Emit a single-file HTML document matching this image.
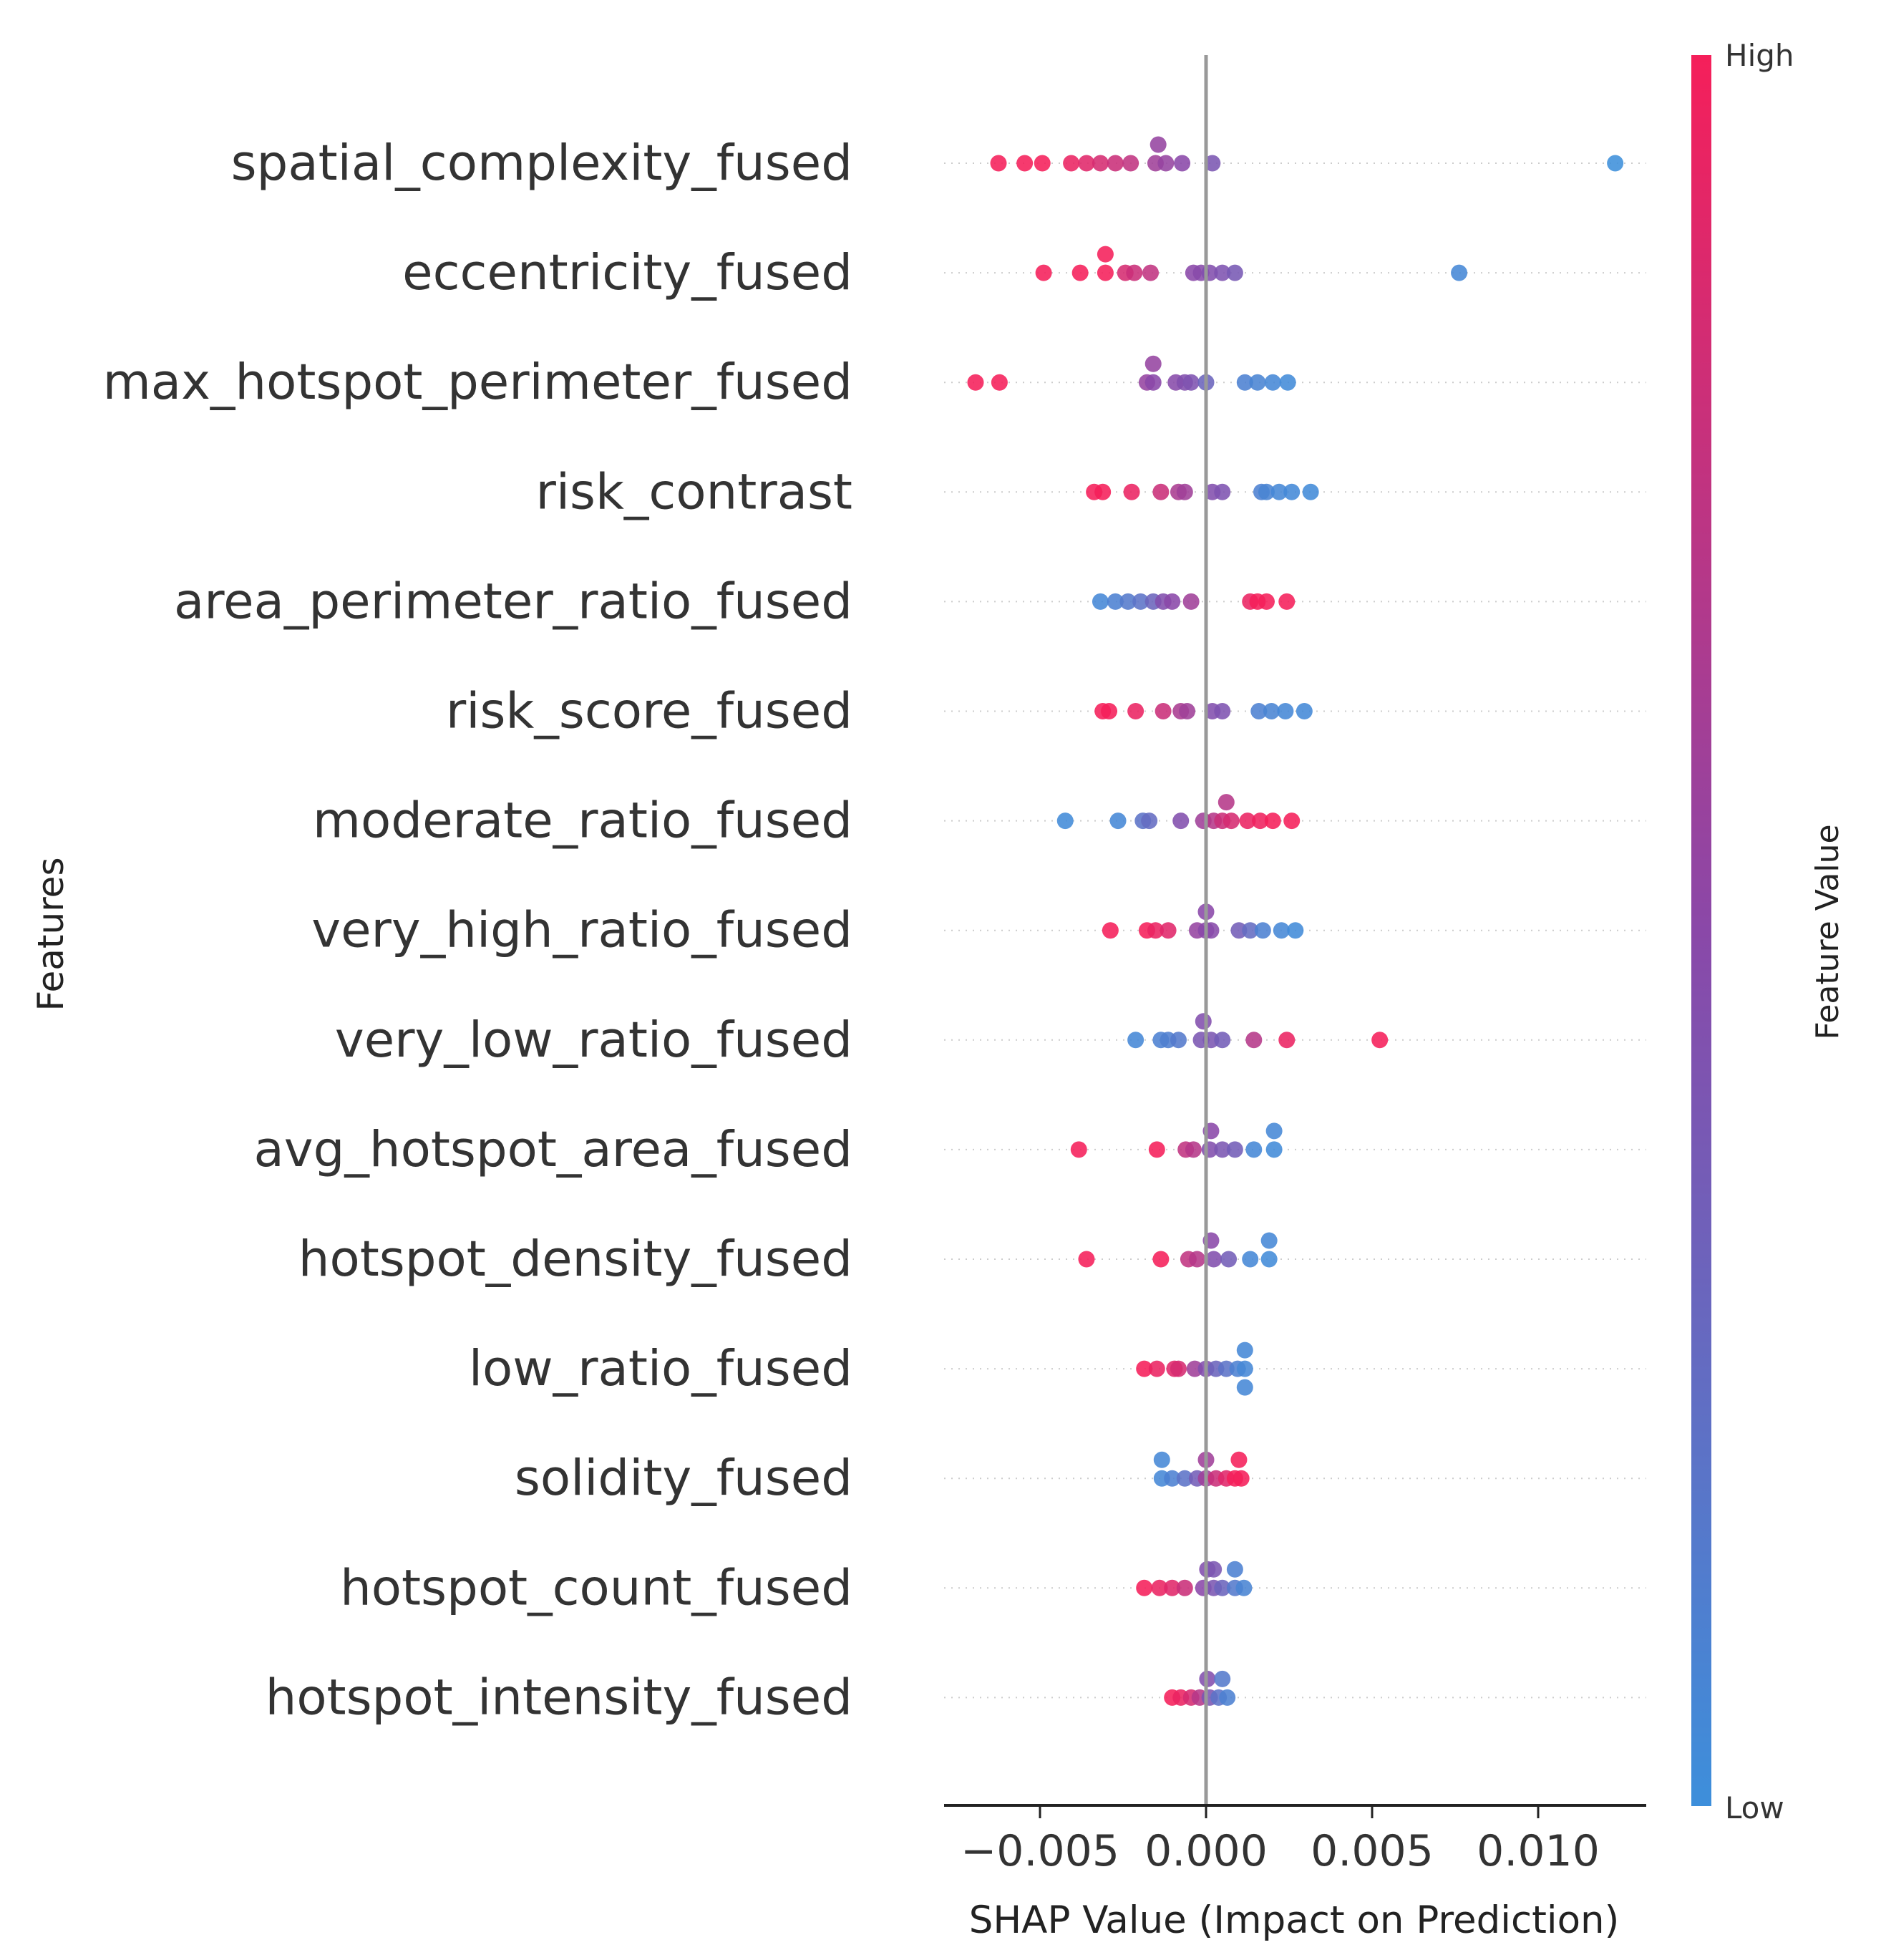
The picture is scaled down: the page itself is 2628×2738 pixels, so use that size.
<!DOCTYPE html>
<html><head><meta charset="utf-8"><style>
html,body{margin:0;padding:0;background:#fff;}
svg{display:block;font-family:"DejaVu Sans","Liberation Sans",sans-serif;}
</style></head><body>
<svg id="chart" width="2628" height="2738" viewBox="0 0 2628 2738" xmlns="http://www.w3.org/2000/svg">
<defs><linearGradient id="cb" x1="0" y1="1" x2="0" y2="0">
<stop offset="0" stop-color="#3d8fdb"/><stop offset="0.5" stop-color="#8a48a8"/><stop offset="1" stop-color="#f51f5a"/></linearGradient></defs>
<g id="rows"></g><g id="dots"></g>
<line x1="1685" y1="77" x2="1685" y2="2522" stroke="#999" stroke-width="5"/>
<line x1="1319" y1="2522" x2="2300" y2="2522" stroke="#222" stroke-width="4"/>
<g id="xticks"></g>
<text x="1808" y="2700" font-size="53" fill="#222" text-anchor="middle">SHAP Value (Impact on Prediction)</text>
<text transform="translate(88,1305) rotate(-90)" font-size="50" fill="#222" text-anchor="middle">Features</text>
<rect x="2363" y="77" width="28" height="2446" fill="url(#cb)"/>
<text x="2410" y="92" font-size="42" fill="#333">High</text>
<text x="2410" y="2540" font-size="42" fill="#333">Low</text>
<text transform="translate(2568,1302) rotate(-90)" font-size="44" fill="#222" text-anchor="middle">Feature Value</text>
</svg>
<script>
const features = ["spatial_complexity_fused","eccentricity_fused","max_hotspot_perimeter_fused","risk_contrast","area_perimeter_ratio_fused","risk_score_fused","moderate_ratio_fused","very_high_ratio_fused","very_low_ratio_fused","avg_hotspot_area_fused","hotspot_density_fused","low_ratio_fused","solidity_fused","hotspot_count_fused","hotspot_intensity_fused"];
// SHAP values in units of 1e-3
const shapVals = [
[-6.25,-5.46,-4.93,-4.06,-3.60,-3.18,-2.73,-2.27,-1.52,-1.21,-0.72,0.19,12.32,-1.44],
[-4.89,-3.79,-3.03,-2.43,-2.16,-1.67,-0.38,-0.15,0.11,0.49,0.87,7.62,-3.03],
[-6.94,-6.22,-1.78,-1.59,-0.91,-0.64,-0.45,0,1.17,1.55,2.01,2.46,-1.59],
[-3.37,-3.11,-2.24,-1.36,-0.83,-0.64,0.19,0.49,1.67,1.82,2.20,2.58,3.15],
[-3.18,-2.73,-2.35,-1.97,-1.59,-1.29,-1.02,-0.45,1.33,1.55,1.82,2.43],
[-3.11,-2.92,-2.12,-1.29,-0.76,-0.57,0.19,0.49,1.59,1.97,2.39,2.96],
[-4.24,-2.65,-1.90,-1.71,-0.76,-0.08,0.23,0.49,0.76,1.25,1.63,2.01,2.58,0.61],
[-2.88,-1.78,-1.52,-1.14,-0.27,0,0.15,0.99,1.33,1.71,2.27,2.69,0],
[-2.12,-1.36,-1.14,-0.83,-0.15,0.15,0.49,1.44,2.43,5.23,-0.08],
[-3.83,-1.48,-0.61,-0.38,0.11,0.49,0.87,1.44,2.05,0.15,2.05],
[-3.60,-1.36,-0.53,-0.27,0.23,0.68,1.33,1.90,0.15,1.90],
[-1.86,-1.48,-0.95,-0.83,-0.34,0,0.30,0.61,0.95,1.17,1.17,1.17],
[-1.33,-1.02,-0.64,-0.27,0,0.30,0.61,0.87,1.06,-1.33,0,0.99],
[-1.86,-1.40,-1.02,-0.64,-0.08,0.23,0.49,0.87,1.14,0.04,0.23,0.87],
[-1.02,-0.76,-0.45,-0.19,0.11,0.38,0.64,0.04,0.49]
];
// normalized feature value 0 (low) .. 1 (high)
const featVals = [
[1,1,1,0.95,0.9,0.85,0.8,0.75,0.6,0.55,0.5,0.4,0,0.55],
[1,1,1,0.85,0.8,0.75,0.5,0.48,0.45,0.42,0.38,0.05,1],
[1,1,0.55,0.5,0.48,0.45,0.42,0.3,0.1,0.08,0.05,0.03,0.55],
[1,1,0.95,0.8,0.65,0.6,0.45,0.42,0.1,0.08,0.05,0.04,0.03],
[0.05,0.1,0.15,0.2,0.3,0.45,0.5,0.6,0.95,1,1,1],
[1,1,0.95,0.8,0.65,0.6,0.45,0.42,0.1,0.08,0.05,0.04,0.03],
[0.03,0.05,0.2,0.25,0.45,0.6,0.7,0.8,0.85,0.95,0.97,1,1,0.7],
[1,1,0.95,0.9,0.55,0.5,0.48,0.35,0.25,0.1,0.05,0.03,0.5],
[0.05,0.1,0.12,0.15,0.4,0.4,0.35,0.7,0.95,1,0.45],
[1,1,0.75,0.7,0.45,0.4,0.35,0.05,0.03,0.5,0.05],
[1,1,0.75,0.7,0.45,0.35,0.05,0.03,0.5,0.05],
[1,0.95,0.9,0.85,0.6,0.45,0.3,0.2,0.1,0.05,0.05,0.05],
[0.05,0.1,0.2,0.35,0.6,0.8,0.9,1,1,0.05,0.6,1],
[1,0.95,0.9,0.8,0.5,0.4,0.3,0.15,0.08,0.45,0.4,0.1],
[1,0.95,0.85,0.7,0.4,0.2,0.1,0.45,0.15]
];
// jitter lane: 0 = on row, -1 = above, 1 = below
const lanes = [
[0,0,0,0,0,0,0,0,0,0,0,0,0,-1],
[0,0,0,0,0,0,0,0,0,0,0,0,-1],
[0,0,0,0,0,0,0,0,0,0,0,0,-1],
[0,0,0,0,0,0,0,0,0,0,0,0,0],
[0,0,0,0,0,0,0,0,0,0,0,0],
[0,0,0,0,0,0,0,0,0,0,0,0],
[0,0,0,0,0,0,0,0,0,0,0,0,0,-1],
[0,0,0,0,0,0,0,0,0,0,0,0,-1],
[0,0,0,0,0,0,0,0,0,0,-1],
[0,0,0,0,0,0,0,0,0,-1,-1],
[0,0,0,0,0,0,0,0,-1,-1],
[0,0,0,0,0,0,0,0,0,0,-1,1],
[0,0,0,0,0,0,0,0,0,-1,-1,-1],
[0,0,0,0,0,0,0,0,0,-1,-1,-1],
[0,0,0,0,0,0,0,-1,-1]
];
const tickVals = [-5,0,5,10];
const tickLabels = ["\u22120.005","0.000","0.005","0.010"];

const NS="http://www.w3.org/2000/svg";
const xScale = v => 1685 + v*46.4;
const yRow = i => 228 + i*153.1;
function col(t){
  const a=[61,143,219], m=[138,72,168], b=[245,31,90];
  let c;
  if(t<0.5){const u=t/0.5;c=a.map((x,k)=>Math.round(x+(m[k]-x)*u));}
  else {const u=(t-0.5)/0.5;c=m.map((x,k)=>Math.round(x+(b[k]-x)*u));}
  return `rgb(${c[0]},${c[1]},${c[2]})`;
}
const rows=document.getElementById('rows'), dots=document.getElementById('dots'), xt=document.getElementById('xticks');
features.forEach((f,i)=>{
  const y=yRow(i);
  const ln=document.createElementNS(NS,'line');
  ln.setAttribute('x1',1319);ln.setAttribute('x2',2300);ln.setAttribute('y1',y);ln.setAttribute('y2',y);
  ln.setAttribute('stroke','#ccc');ln.setAttribute('stroke-width','2');ln.setAttribute('stroke-dasharray','2 8');
  
  
  rows.appendChild(ln);
  const t=document.createElementNS(NS,'text');
  t.setAttribute('x',1191);t.setAttribute('y',y+23);t.setAttribute('text-anchor','end');
  t.setAttribute('font-size','69');t.setAttribute('fill','#333');t.textContent=f;
  
  
  rows.appendChild(t);
  shapVals[i].forEach((v,j)=>{
    const c=document.createElementNS(NS,'circle');
    c.setAttribute('cx',xScale(v));c.setAttribute('cy',y+lanes[i][j]*26);c.setAttribute('r',11.5);
    c.setAttribute('fill',col(featVals[i][j]));c.setAttribute('fill-opacity','0.88');
    
    
    dots.appendChild(c);
  });
});
tickVals.forEach((v,k)=>{
  const x=xScale(v);
  const l=document.createElementNS(NS,'line');
  l.setAttribute('x1',x);l.setAttribute('x2',x);l.setAttribute('y1',2522);l.setAttribute('y2',2540);
  l.setAttribute('stroke','#222');l.setAttribute('stroke-width','3');
  
  
  xt.appendChild(l);
  const t=document.createElementNS(NS,'text');
  t.setAttribute('x',x);t.setAttribute('y',2606);t.setAttribute('text-anchor','middle');
  t.setAttribute('font-size','60');t.setAttribute('fill','#333');t.textContent=tickLabels[k];
  
  
  xt.appendChild(t);
});
</script>
</body></html>
